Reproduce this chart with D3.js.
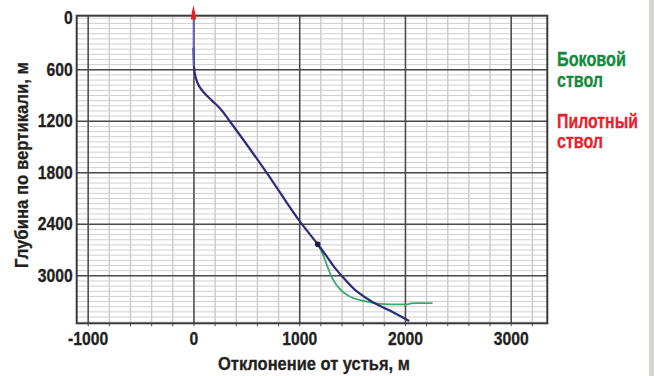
<!DOCTYPE html>
<html>
<head>
<meta charset="utf-8">
<script src="https://cdn.jsdelivr.net/npm/d3@7"></script>
<style>
  body { margin: 0; background: #fff; }
  svg { display: block; }
  .tick text { font-family: "Liberation Sans", Arial, sans-serif; font-weight: bold; font-size: 18.5px; fill: #231f20; stroke: #231f20; stroke-width: 0.3; }
</style>
</head>
<body>
<div id="chart"></div>
<script>
// tick labels
var xTicks = [-1000, 0, 1000, 2000, 3000];
var yTicks = [0, 600, 1200, 1800, 2400, 3000];

// main (pilot) trajectory: deviation from wellhead, vertical depth
var pilotDev   = [0, 0, 5, 22, 53, 100, 175, 260, 340, 690, 1020, 1175, 1252, 1330, 1425, 1551, 1693, 1851, 2040];
var pilotDepth = [0, 350, 565, 700, 797, 874, 965, 1068, 1200, 1800, 2395, 2638, 2765, 2902, 3038, 3194, 3311, 3408, 3533];

// sidetrack (starts at kick-off point)
var sideDev   = [1175, 1220, 1268, 1315, 1394, 1488, 1614, 1741, 1867, 2025, 2072, 2261];
var sideDepth = [2638, 2745, 2902, 3038, 3173, 3252, 3299, 3330, 3338, 3338, 3323, 3323];

var kickoff = {dev: 1175, depth: 2638};

// red wellhead marker (half-width in m)
var headDepth = [20, -40, -145];
var headHalf  = [24, 20, 0];

var width = 654, height = 376;
var margin = {top: 15.7, right: 106.7, bottom: 52.7, left: 76.7};
var squeeze = 0.85;

var x = d3.scaleLinear().domain([-1104, 3346]).range([margin.left, width - margin.right]);
var y = d3.scaleLinear().domain([-24, 3559]).range([margin.top, height - margin.bottom]);

var svg = d3.select("#chart").append("svg")
    .attr("width", width)
    .attr("height", height);

// gray strip on the right edge
svg.append("rect")
    .attr("x", 649).attr("y", 0).attr("width", 5).attr("height", height)
    .attr("fill", "#d6d2cf");

var plotW = width - margin.right - margin.left;
var plotH = height - margin.bottom - margin.top;

// minor grid
var xMinor = d3.range(-1000, 3347, 200);
var yMinor = d3.range(0, 3559, 60);

svg.append("g")
    .attr("transform", `translate(0,${margin.top})`)
    .call(d3.axisBottom(x).tickValues(xMinor).tickSize(plotH).tickFormat(""))
    .call(g => g.select(".domain").remove())
    .call(g => g.selectAll("line").attr("stroke", "#c9c9c9").attr("stroke-width", 1.4));

svg.append("g")
    .attr("transform", `translate(${margin.left},0)`)
    .call(d3.axisRight(y).tickValues(yMinor).tickSize(plotW).tickFormat(""))
    .call(g => g.select(".domain").remove())
    .call(g => g.selectAll("line").attr("stroke", "#cfcfcf").attr("stroke-width", 1));

// major grid
svg.append("g")
    .attr("transform", `translate(0,${margin.top})`)
    .call(d3.axisBottom(x).tickValues(xTicks).tickSize(plotH).tickFormat(""))
    .call(g => g.select(".domain").remove())
    .call(g => g.selectAll("line").attr("stroke", "#4a4a4a").attr("stroke-width", 1.5));

svg.append("g")
    .attr("transform", `translate(${margin.left},0)`)
    .call(d3.axisRight(y).tickValues(yTicks.slice(1)).tickSize(plotW).tickFormat(""))
    .call(g => g.select(".domain").remove())
    .call(g => g.selectAll("line").attr("stroke", "#4a4a4a").attr("stroke-width", 1.5));

// small ticks below bottom border
svg.append("g")
    .attr("transform", `translate(0,${height - margin.bottom})`)
    .call(d3.axisBottom(x).tickValues(xMinor).tickSize(3).tickFormat(""))
    .call(g => g.select(".domain").remove())
    .call(g => g.selectAll("line").attr("stroke", "#555").attr("stroke-width", 1));

// frame
svg.append("rect")
    .attr("x", margin.left).attr("y", margin.top)
    .attr("width", plotW).attr("height", plotH)
    .attr("fill", "none").attr("stroke", "#3a3a3a").attr("stroke-width", 2);

// tick labels (condensed look by horizontal squeeze)
svg.append("g")
    .attr("transform", `translate(0,${height - margin.bottom})`)
    .call(d3.axisBottom(x).tickValues(xTicks).tickSize(0).tickPadding(9).tickFormat(d => String(d)))
    .call(g => g.select(".domain").remove())
    .call(g => g.selectAll("text").attr("transform", `scale(${squeeze},1)`));

svg.append("g")
    .attr("transform", `translate(${margin.left},0)`)
    .call(d3.axisLeft(y).tickValues(yTicks).tickSize(0).tickFormat(d => String(d)))
    .call(g => g.select(".domain").remove())
    .call(g => g.selectAll("text").attr("x", -4 / squeeze).attr("transform", `scale(${squeeze},1)`));

// trajectories
var pilot = pilotDev.map((d, i) => [d, pilotDepth[i]]);
var side = sideDev.map((d, i) => [d, sideDepth[i]]);

var pilotLine = d3.line()
    .x(d => x(d[0]))
    .y(d => y(d[1]))
    .curve(d3.curveMonotoneY);

var sideLine = d3.line()
    .x(d => x(d[0]))
    .y(d => y(d[1]))
    .curve(d3.curveMonotoneX);

svg.append("path")
    .datum(side)
    .attr("d", sideLine)
    .attr("fill", "none")
    .attr("stroke", "#3aa96c")
    .attr("stroke-width", 1.8);

svg.append("path")
    .datum(pilot.slice(1))
    .attr("d", pilotLine)
    .attr("fill", "none")
    .attr("stroke", "#2b2d7c")
    .attr("stroke-width", 2.2);

svg.append("path")
    .datum(pilot.slice(0, 3))
    .attr("d", pilotLine)
    .attr("fill", "none")
    .attr("stroke", "#5b63c4")
    .attr("stroke-width", 1.5);

svg.append("circle")
    .attr("cx", x(kickoff.dev))
    .attr("cy", y(kickoff.depth))
    .attr("r", 2.8)
    .attr("fill", "#1b1b4a");

// wellhead marker
var head = headDepth.map((d, i) => ({depth: d, half: headHalf[i]}));
svg.append("path")
    .datum(head)
    .attr("d", d3.area()
        .y(d => y(d.depth))
        .x0(d => x(-d.half))
        .x1(d => x(d.half))
        .curve(d3.curveBasis))
    .attr("fill", "#ec1c24");

// axis titles
var titleFont = "'Liberation Sans', Arial, sans-serif";

// squeeze a text to a given width with a scale transform
function fitText(g, w) {
  var t = g.select("text");
  var len = t.node().getComputedTextLength();
  t.attr("transform", `scale(${w / len},1)`);
}

svg.append("g")
    .attr("transform", "translate(218,370)")
  .append("text")
    .attr("font-family", titleFont)
    .attr("font-weight", "bold")
    .attr("font-size", 18)
    .attr("fill", "#231f20")
    .attr("stroke", "#231f20")
    .attr("stroke-width", 0.3)
    .text("Отклонение от устья, м")
    .select(function() { return this.parentNode; })
    .call(fitText, 192);

svg.append("g")
    .attr("transform", "translate(28,268) rotate(-90)")
  .append("text")
    .attr("font-family", titleFont)
    .attr("font-weight", "bold")
    .attr("font-size", 18)
    .attr("fill", "#231f20")
    .attr("stroke", "#231f20")
    .attr("stroke-width", 0.3)
    .text("Глубина по вертикали, м")
    .select(function() { return this.parentNode; })
    .call(fitText, 206);

// legend
var legendLines = [
  {text: "Боковой", y: 66, w: 69, color: "#138a3c"},
  {text: "ствол", y: 87, w: 46, color: "#138a3c"},
  {text: "Пилотный", y: 128, w: 81, color: "#e8222d"},
  {text: "ствол", y: 148, w: 46, color: "#e8222d"}
];

svg.append("g")
  .selectAll("g")
  .data(legendLines)
  .join("g")
    .attr("transform", d => `translate(557,${d.y})`)
    .each(function(d) {
      var g = d3.select(this);
      g.append("text")
          .attr("font-family", titleFont)
          .attr("font-weight", "bold")
          .attr("font-size", 19.5)
          .attr("fill", d.color)
          .attr("stroke", d.color)
          .attr("stroke-width", 0.3)
          .text(d.text);
      fitText(g, d.w);
    });
</script>
</body>
</html>
